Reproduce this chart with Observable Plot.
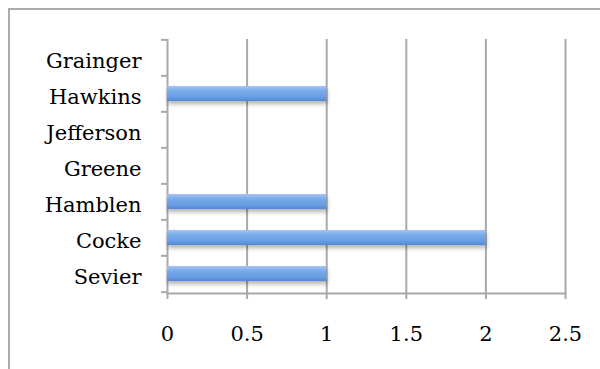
<!DOCTYPE html>
<html>
<head>
<meta charset="utf-8">
<script src="https://cdn.jsdelivr.net/npm/d3@7"></script>
<script src="https://cdn.jsdelivr.net/npm/@observablehq/plot@0.6"></script>
<style>
  html, body { margin: 0; padding: 0; background: #fff; }
  #wrap { position: relative; width: 600px; height: 369px; overflow: hidden; }
  #frame { position: absolute; left: 8px; top: 8px; width: 640px; height: 420px; border: 2px solid #ababab; box-sizing: border-box; }
  #chart { position: absolute; left: 0; top: 0; }
</style>
</head>
<body>
<div id="wrap"><div id="frame"></div><div id="chart"></div></div>
<script>
const counties = ["Grainger", "Hawkins", "Jefferson", "Greene", "Hamblen", "Cocke", "Sevier"];
const values = [0, 1, 0, 0, 1, 2, 1];
const xTicks = [0, 0.5, 1, 1.5, 2, 2.5];

const data = counties.map((c, i) => ({county: c, value: values[i]}));

const H = 369, MT = 39, MB = 76;
const step = (H - MT - MB) / counties.length;
const GRID = "#a9a9a9";

const chart = Plot.plot({
  width: 600,
  height: H,
  marginLeft: 167,
  marginRight: 35,
  marginTop: MT,
  marginBottom: MB,
  style: {fontFamily: "'DejaVu Serif', serif", fontSize: "21px", color: "#000", background: "transparent"},
  x: {domain: [0, 2.5], ticks: xTicks, label: null},
  y: {domain: counties, paddingInner: 0.58, paddingOuter: 0.29, label: null},
  marks: [
    Plot.gridX(xTicks, {stroke: GRID, strokeOpacity: 1, strokeWidth: 2}),
    Plot.frame({anchor: "bottom", stroke: GRID, strokeWidth: 2}),
    // y-axis ticks at category boundaries
    Plot.ruleY(counties, {x1: 0, x2: 0, insetLeft: -6, dy: -step / 2, stroke: GRID, strokeWidth: 2}),
    Plot.ruleY([counties[counties.length - 1]], {x1: 0, x2: 0, insetLeft: -6, dy: step / 2, stroke: GRID, strokeWidth: 2}),
    Plot.barX(data, {x: "value", y: "county", fill: "url(#barGrad)"}),
    Plot.axisX({ticks: xTicks, tickSize: 6, tickPadding: 27, stroke: GRID, strokeWidth: 2, fontSize: 21, tickFormat: d => String(d), label: null}),
    Plot.axisY({tickSize: 0, tickPadding: 26, fontSize: 21, dy: 3, label: null})
  ]
});

// gradient + shadow definitions for the bars
const svg = d3.select(chart);
const defs = svg.insert("defs", ":first-child");
const g = defs.append("linearGradient").attr("id", "barGrad").attr("x1", 0).attr("y1", 0).attr("x2", 0).attr("y2", 1);
g.append("stop").attr("offset", "0%").attr("stop-color", "#a8c7f0");
g.append("stop").attr("offset", "30%").attr("stop-color", "#7aabea");
g.append("stop").attr("offset", "70%").attr("stop-color", "#6a9fe4");
g.append("stop").attr("offset", "100%").attr("stop-color", "#5288d4");
const f = defs.append("filter").attr("id", "barShadow").attr("x", "-10%").attr("y", "-50%").attr("width", "130%").attr("height", "220%");
f.append("feDropShadow").attr("dx", 1).attr("dy", 3).attr("stdDeviation", 2).attr("flood-color", "#000").attr("flood-opacity", 0.3);
svg.selectAll("g[fill='url(#barGrad)'], rect[fill='url(#barGrad)']").attr("filter", "url(#barShadow)");

document.getElementById("chart").appendChild(chart);
</script>
</body>
</html>
